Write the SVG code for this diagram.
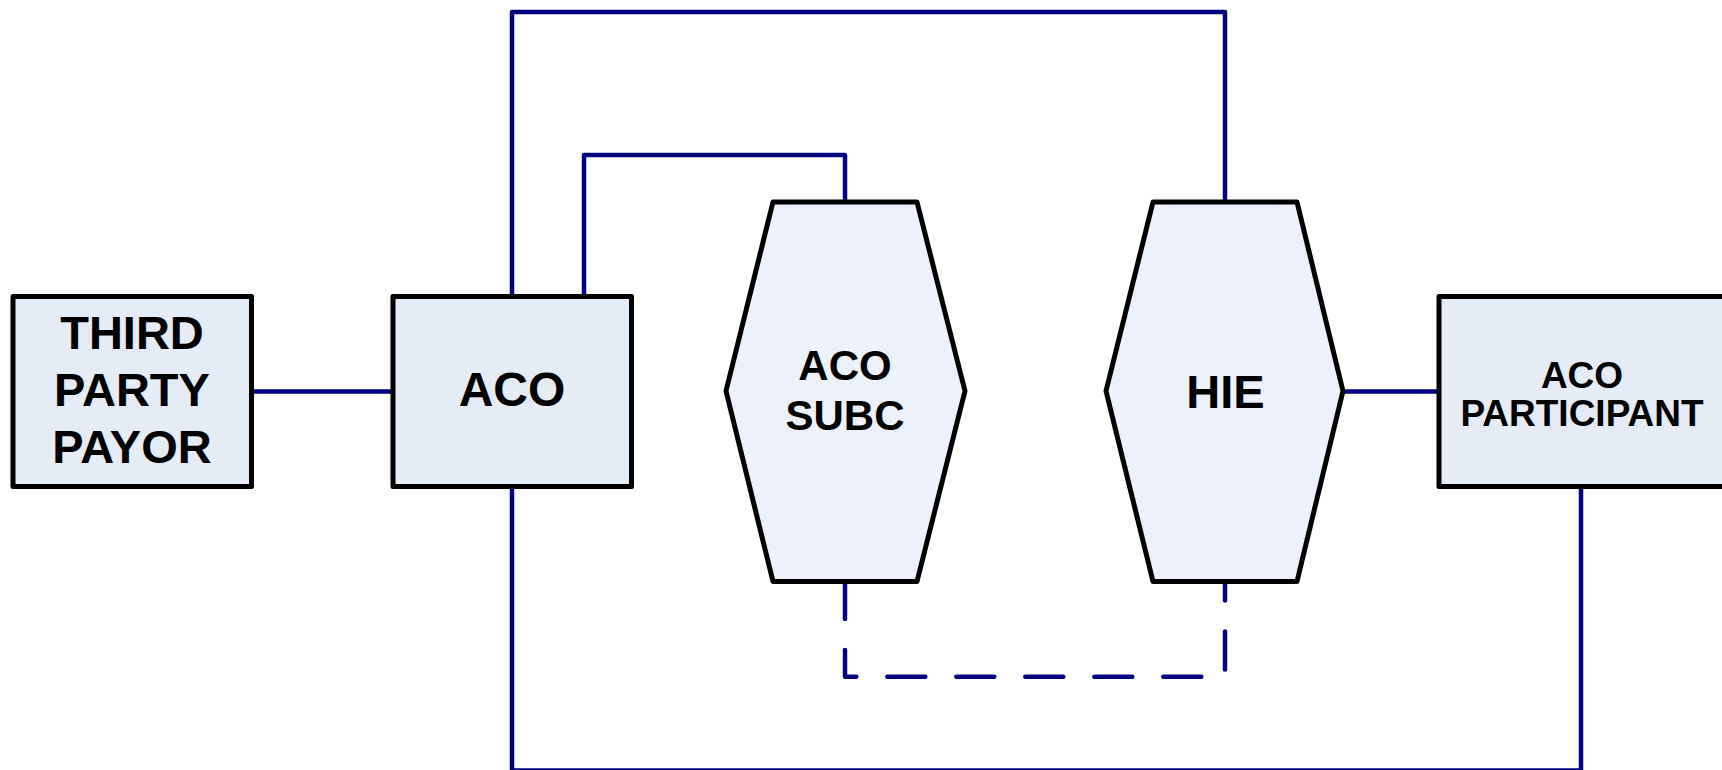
<svg xmlns="http://www.w3.org/2000/svg" width="1722" height="770" viewBox="0 0 1722 770">
<style>
.conn{fill:none;stroke:#000080;stroke-width:4.5;stroke-linejoin:round;stroke-linecap:butt}
.dash{stroke-dasharray:38 31;stroke-linecap:round}
.box{fill:#E6ECF6;stroke:#000;stroke-width:5;stroke-linejoin:round}
.hex{fill:#EDF1F9;stroke:#000;stroke-width:5;stroke-linejoin:round}
.lbl{font-family:"Liberation Sans",Arial,sans-serif;font-weight:bold;fill:#000;text-anchor:middle}
</style>
<rect width="1722" height="770" fill="#fff"/>
<g id="connectors">
<path class="conn" d="M251.5 391.5 H393"/>
<path class="conn" d="M512 296.5 V12 H1225 V202"/>
<path class="conn" d="M584 296.5 V155 H845 V202"/>
<path class="conn" d="M512 486.5 V770.5 H1581 V486.5"/>
<path class="conn" d="M1343 391.5 H1439"/>
<path class="conn dash" d="M845 581 V676.7 H1225 V581"/>
</g>
<g id="third-party-payor">
<rect class="box" x="13" y="296.5" width="238.5" height="190"/>
<text class="lbl" font-size="47"><tspan x="132" y="349">THIRD</tspan><tspan x="132" y="406">PARTY</tspan><tspan x="132" y="462.5">PAYOR</tspan></text>
</g>
<g id="aco">
<rect class="box" x="393" y="296.5" width="238.5" height="190"/>
<text class="lbl" font-size="48" x="512" y="406">ACO</text>
</g>
<g id="aco-subc">
<polygon class="hex" points="773,202 917,202 965,391 917,581.5 773,581.5 726,391"/>
<text class="lbl" font-size="42"><tspan x="845" y="379.5">ACO</tspan><tspan x="845" y="430">SUBC</tspan></text>
</g>
<g id="hie">
<polygon class="hex" points="1153,202 1297,202 1343,391 1297,581.5 1153,581.5 1106,391"/>
<text class="lbl" font-size="47" x="1225.5" y="407.5">HIE</text>
</g>
<g id="aco-participant">
<rect class="box" x="1439" y="296.5" width="290" height="190"/>
<text class="lbl" font-size="37"><tspan x="1582" y="388">ACO</tspan><tspan x="1582" y="425.5">PARTICIPANT</tspan></text>
</g>
</svg>
